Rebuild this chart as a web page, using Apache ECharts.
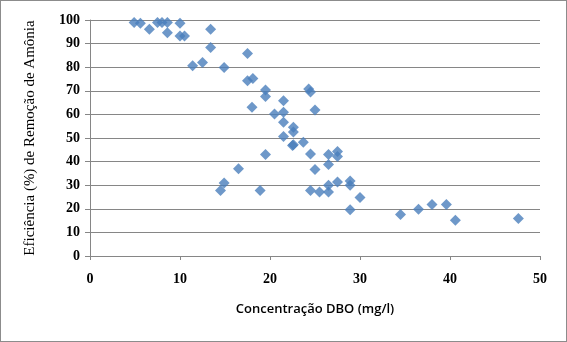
<!DOCTYPE html>
<html><head><meta charset="utf-8">
<script src="https://cdn.jsdelivr.net/npm/echarts@6/dist/echarts.min.js"></script>
<style>html,body{margin:0;padding:0;background:#fff}#c{width:567px;height:342px;box-sizing:border-box;border:1px solid #8c8c8c}</style>
</head><body><div id="c"></div>
<script>
const dbo = [4.9,5.6,6.6,7.5,8.0,8.6,8.6,10.0,10.0,10.5,13.4,13.4,11.4,12.5,14.9,17.5,17.5,18.1,18.0,19.5,19.5,20.5,21.5,21.5,21.5,21.5,22.6,22.6,22.5,22.6,23.7,24.3,24.5,25.0,19.5,24.5,26.5,27.5,27.5,26.5,25.0,16.5,14.9,14.5,18.9,24.5,25.5,26.5,26.5,27.5,28.9,28.9,30.0,28.9,34.5,36.5,38.0,39.6,40.6,47.6];
const eficiencia = [98.9,98.6,96.1,98.9,98.9,98.9,94.6,98.6,93.2,93.2,96.1,88.3,80.6,82.0,79.9,85.8,74.3,75.2,63.0,70.3,67.6,60.2,65.8,60.9,56.7,50.6,54.6,52.5,46.8,47.1,48.2,70.8,69.5,61.9,43.0,43.2,43.0,44.3,42.2,38.8,36.6,37.0,30.9,27.8,27.8,27.8,27.1,27.1,30.0,31.4,31.8,30.0,24.8,19.6,17.6,19.8,21.8,21.8,15.2,15.9];
const xTicks = [0,10,20,30,40,50];
const yTicks = [0,10,20,30,40,50,60,70,80,90,100];
const xTitle = 'Concentração DBO (mg/l)';
const yTitle = 'Eficiência (%) de Remoção de Amônia';
const points = dbo.map((x,i)=>[x,eficiencia[i]]);
const chart = echarts.init(document.getElementById('c'));
chart.setOption({
  animation:false,
  grid:{left:89,right:26,top:19,bottom:85,containLabel:false},
  xAxis:{type:'value',min:xTicks[0],max:xTicks[xTicks.length-1],interval:10,
    name:xTitle,nameLocation:'middle',nameGap:47,
    nameTextStyle:{fontFamily:'Open Sans',fontSize:13,fontWeight:600,color:'#000'},
    axisLine:{show:true,lineStyle:{color:'#868686'}},
    axisTick:{show:true,inside:false,length:4,lineStyle:{color:'#868686'}},
    axisLabel:{fontFamily:'Liberation Serif',fontWeight:'bold',fontSize:14,color:'#000',margin:16},
    splitLine:{show:false}},
  yAxis:{type:'value',min:yTicks[0],max:yTicks[yTicks.length-1],interval:10,
    name:yTitle,nameLocation:'middle',nameGap:52,nameRotate:90,
    nameTextStyle:{fontFamily:'Liberation Serif',fontSize:15,color:'#000'},
    axisLine:{show:true,lineStyle:{color:'#868686'}},
    axisTick:{show:true,inside:false,length:5,lineStyle:{color:'#868686'}},
    axisLabel:{fontFamily:'Liberation Serif',fontWeight:'bold',fontSize:14,color:'#000',margin:10},
    splitLine:{show:true,lineStyle:{color:'#868686',width:1}}},
  series:[{type:'scatter',data:points,symbol:'diamond',symbolSize:11,
    itemStyle:{color:'#4A7EBB'}}]
});
</script></body></html>
